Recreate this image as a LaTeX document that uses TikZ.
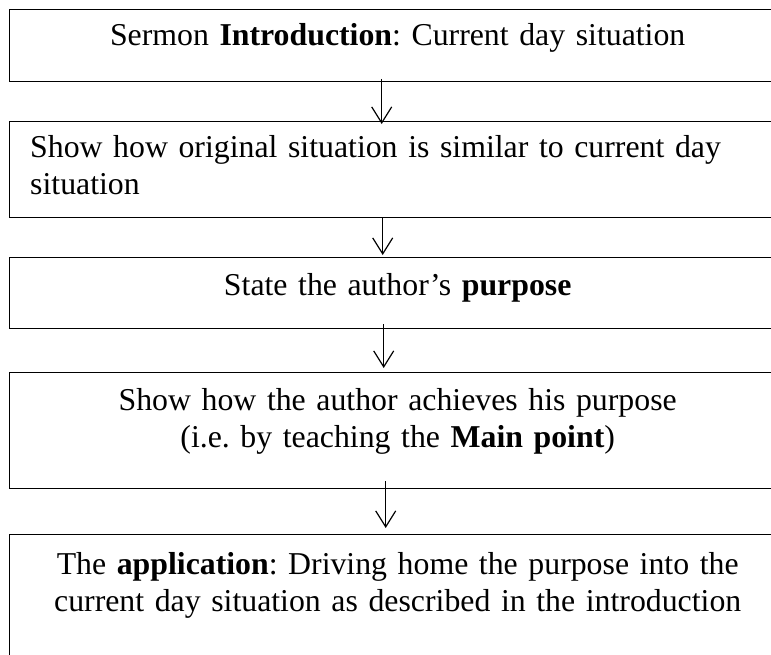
\documentclass[tikz,border=0pt]{standalone}
\usepackage{fontspec}
\setmainfont{Liberation Serif}
\usetikzlibrary{arrows.meta}

\begin{document}
\begin{tikzpicture}[
  stepbox/.style={draw, line width=1.4pt, inner sep=0pt, anchor=north west, minimum width=776pt},
  steptext/.style={inner sep=0pt, text width=760pt, align=center, anchor=base,
    font=\fontsize{31.8pt}{37.5pt}\selectfont\frenchspacing},
  flow/.style={line width=1.2pt, -{Straight Barb[length=16pt, width=20pt, line width=1.2pt]}}
]
\useasboundingbox (0,0) rectangle (771pt,-654pt);
\clip (0,0) rectangle (771pt,-654pt);

% Introduction
\node[stepbox, minimum height=71.5pt] (intro) at (9pt,-9pt) {};
\node[steptext] (introtxt) at ([yshift=-36.5pt]intro.north)
  {Sermon \textbf{Introduction}: Current day situation};

% Original vs current situation
\node[stepbox, minimum height=96pt] (similar) at (9pt,-121pt) {};
\node[steptext, align=left, anchor=base west] (similartxt) at ([xshift=21pt,yshift=-36pt]similar.north west)
  {Show how original situation is similar to current day\\situation};

% Author's purpose
\node[stepbox, minimum height=71pt] (purpose) at (9pt,-257pt) {};
\node[steptext] (purposetxt) at ([yshift=-38pt]purpose.north)
  {State the author’s \textbf{purpose}};

% Main point
\node[stepbox, minimum height=116pt] (mainpt) at (9pt,-372pt) {};
\node[steptext] (mainpttxt) at ([yshift=-38pt]mainpt.north)
  {Show how the author achieves his purpose\\(i.e. by teaching the \textbf{Main point})};

% Application
\node[stepbox, minimum height=130pt] (applic) at (9pt,-534pt) {};
\node[steptext] (applictxt) at ([yshift=-40pt]applic.north)
  {The \textbf{application}: Driving home the purpose into the\\current day situation as described in the introduction};

% Arrows
\draw[flow] ([xshift=-16pt,yshift=3pt]intro.south) -- ([xshift=-16pt,yshift=-3pt]similar.north);
\draw[flow] ([xshift=-15pt,yshift=1pt]similar.south) -- ([xshift=-15pt,yshift=2pt]purpose.north);
\draw[flow] ([xshift=-14pt,yshift=5pt]purpose.south) -- ([xshift=-14pt,yshift=4pt]mainpt.north);
\draw[flow] ([xshift=-12pt,yshift=8pt]mainpt.south) -- ([xshift=-12pt,yshift=6pt]applic.north);
\end{tikzpicture}
\end{document}
